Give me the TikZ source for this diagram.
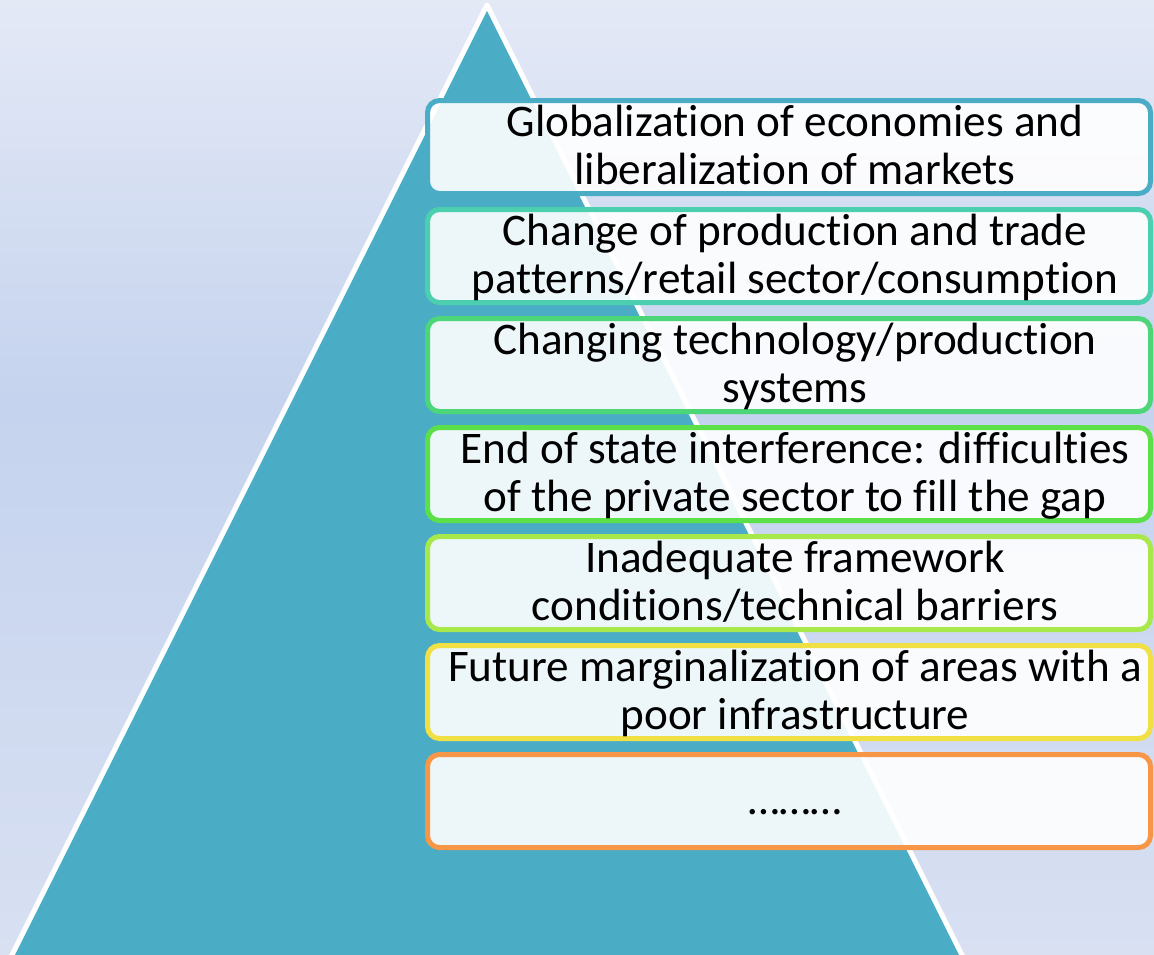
\documentclass[tikz,border=0pt]{standalone}
\usepackage{fontspec}
\setmainfont{Carlito}[Ligatures={NoCommon}]
\definecolor{tri}{HTML}{4BACC6}
\definecolor{bgtop}{HTML}{E4E9F6}
\definecolor{bgmid}{HTML}{C5D3EE}
\definecolor{bgbot}{HTML}{D8E0F2}
\definecolor{c1}{HTML}{4BACC6}
\definecolor{c2}{HTML}{4BCFAE}
\definecolor{c3}{HTML}{4DD57A}
\definecolor{c4}{HTML}{5CE04A}
\definecolor{c5}{HTML}{A8E84A}
\definecolor{c6}{HTML}{F0E044}
\definecolor{c7}{HTML}{F79646}
\pgfdeclareverticalshading{bgshade}{100bp}{color(0bp)=(bgbot); color(25bp)=(bgbot); color(54bp)=(bgmid); color(75bp)=(bgtop); color(100bp)=(bgtop)}
\tikzset{
  pyramid/.style={fill=tri, draw=white, line width=5pt, line join=round},
  itembox/.style={draw=#1, line width=5pt, rounded corners=12pt, fill=white, fill opacity=0.9},
  itemtext/.style={anchor=base, align=center, text=black, font=\fontsize{45.2}{47.5}\selectfont, inner sep=0pt}
}
\begin{document}
\begin{tikzpicture}[x=1pt,y=-1pt]
\useasboundingbox (0,0) rectangle (1154,954);
\begin{scope}
\clip (0,0) rectangle (1154,954);
\shade[shading=bgshade] (0,0) rectangle (1154,954);
\draw[pyramid] (487,5) -- (9,961) -- (965,961) -- cycle;
\end{scope}
\draw[itembox=c1] (427.5,100.5) rectangle (1150.5,193.5);
\draw[itembox=c2] (427.5,209.5) rectangle (1150.5,302.5);
\draw[itembox=c3] (427.5,318.5) rectangle (1150.5,411.5);
\draw[itembox=c4] (427.5,427.5) rectangle (1150.5,520.5);
\draw[itembox=c5] (427.5,536.5) rectangle (1150.5,629.5);
\draw[itembox=c6] (427.5,645.5) rectangle (1150.5,738.5);
\draw[itembox=c7] (427.5,754.5) rectangle (1150.5,847.5);
\node[itemtext] (t1) at (795,184) {Globalization of economies and\\liberalization of markets};
\node[itemtext] (t2) at (795,293) {Change of production and trade\\patterns/retail sector/consumption};
\node[itemtext] (t3) at (795,402) {Changing technology/production\\systems};
\node[itemtext] (t4) at (795,511) {End of state interference: difficulties\\of the private sector to fill the gap};
\node[itemtext] (t5) at (795,620) {Inadequate framework\\conditions/technical barriers};
\node[itemtext] (t6) at (795,729) {Future marginalization of areas with a\\poor infrastructure};
\node[itemtext] (t7) at (795,814) {………};
\end{tikzpicture}
\end{document}
